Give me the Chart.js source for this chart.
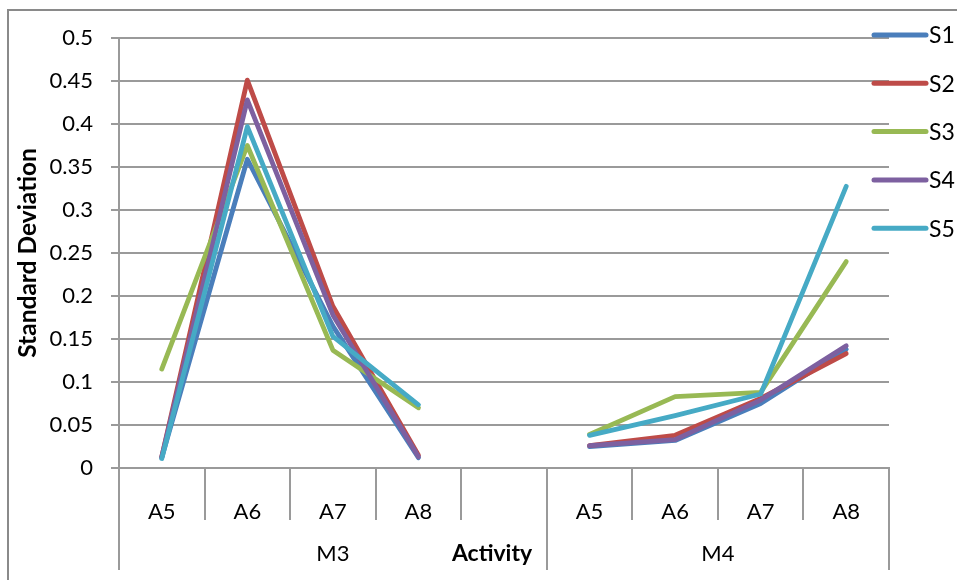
<!DOCTYPE html>
<html>
<head>
<meta charset="utf-8">
<script src="https://cdn.jsdelivr.net/npm/chart.js@4.4.1/dist/chart.umd.min.js"></script>
<style>
  html, body { margin: 0; padding: 0; background: #fff; }
  #wrap { width: 957px; height: 580px; position: relative; }
</style>
</head>
<body>
<div id="wrap"><canvas id="c" width="957" height="580"></canvas></div>
<script>
// Activity categories (the empty slot separates the two module groups)
const categories = ['A5', 'A6', 'A7', 'A8', '', 'A5', 'A6', 'A7', 'A8'];
const groupNames = ['M3', 'M4'];
const groupSizes = [5, 4];

// Standard deviation per series
const seriesNames = ['S1', 'S2', 'S3', 'S4', 'S5'];
const s1 = [0.012, 0.359, 0.165, 0.012, null, 0.025, 0.032, 0.075, 0.138];
const s2 = [0.013, 0.451, 0.188, 0.015, null, 0.026, 0.038, 0.081, 0.133];
const s3 = [0.115, 0.375, 0.137, 0.070, null, 0.039, 0.083, 0.088, 0.240];
const s4 = [0.013, 0.428, 0.178, 0.013, null, 0.026, 0.033, 0.079, 0.142];
const s5 = [0.011, 0.397, 0.153, 0.0735, null, 0.038, 0.061, 0.086, 0.3275];
const seriesValues = [s1, s2, s3, s4, s5];
const seriesColors = ['#4a7ebb', '#be4b48', '#98b954', '#7d60a0', '#46aac5'];

// Value axis
const yMin = 0, yMax = 0.5, yStep = 0.05;
const yTitle = 'Standard Deviation';
const xTitle = 'Activity';

const FONT = 'Lato, "Liberation Sans", Arial, sans-serif';
const GRID = '#9a9a9a';

const datasets = seriesNames.map((name, i) => ({
  label: name,
  data: seriesValues[i],
  borderColor: seriesColors[i],
  backgroundColor: seriesColors[i],
  borderWidth: 4.8,
  pointRadius: 0,
  pointHoverRadius: 0,
  tension: 0,
  spanGaps: false,
  borderCapStyle: 'round',
  borderJoinStyle: 'round',
  order: seriesNames.length - i
}));

// Outer frame around the chart
const framePlugin = {
  id: 'frame',
  beforeDraw(chart) {
    const ctx = chart.ctx;
    ctx.save();
    ctx.fillStyle = '#fff';
    ctx.fillRect(0, 0, chart.width, chart.height);
    ctx.strokeStyle = '#8a8a8a';
    ctx.lineWidth = 2;
    ctx.strokeRect(8, 10, chart.width + 20, chart.height + 20);
    ctx.restore();
  }
};

// Two-level category axis: activity cells, module groups, axis title, legend
const decorPlugin = {
  id: 'decor',
  afterDraw(chart) {
    const ctx = chart.ctx;
    const xs = chart.scales.x;
    const area = chart.chartArea;
    const step = xs.getPixelForValue(1) - xs.getPixelForValue(0);
    const edge = i => xs.getPixelForValue(0) - step / 2 + i * step;
    const row1 = area.bottom + 52;
    const row2 = area.bottom + 102;

    ctx.save();
    ctx.strokeStyle = GRID;
    ctx.lineWidth = 2;
    ctx.beginPath();
    for (let i = 0; i <= categories.length; i++) {
      const x = Math.round(edge(i));
      ctx.moveTo(x, area.bottom);
      ctx.lineTo(x, row1);
    }
    let acc = 0;
    const bounds = [0];
    groupSizes.forEach(n => { acc += n; bounds.push(acc); });
    bounds.forEach(b => {
      const x = Math.round(edge(b));
      ctx.moveTo(x, row1);
      ctx.lineTo(x, row2);
    });
    ctx.stroke();

    ctx.fillStyle = '#000';
    ctx.textAlign = 'center';
    ctx.textBaseline = 'middle';
    ctx.font = '22px ' + FONT;
    groupNames.forEach((g, k) => {
      const x = (edge(bounds[k]) + edge(bounds[k + 1])) / 2;
      ctx.fillText(g, x, area.bottom + 86);
    });
    ctx.font = 'bold 23px ' + FONT;
    ctx.fillText(xTitle, edge(bounds[1]) - 0.64 * step, area.bottom + 86);

    // legend
    ctx.font = '23px ' + FONT;
    ctx.textAlign = 'left';
    chart.data.datasets.forEach((ds, i) => {
      const y = area.top - 3 + i * 48.3;
      ctx.strokeStyle = ds.borderColor;
      ctx.lineWidth = 5;
      ctx.lineCap = 'round';
      ctx.beginPath();
      ctx.moveTo(area.right - 15, y);
      ctx.lineTo(area.right + 37, y);
      ctx.stroke();
      ctx.fillStyle = '#000';
      ctx.fillText(ds.label, area.right + 40, y + 1);
    });
    ctx.restore();
  }
};

new Chart(document.getElementById('c'), {
  type: 'line',
  data: { labels: categories, datasets },
  plugins: [framePlugin, decorPlugin],
  options: {
    responsive: false,
    devicePixelRatio: 1,
    animation: false,
    layout: { padding: { top: 38, right: 68, bottom: 0, left: 0 } },
    plugins: { legend: { display: false }, tooltip: { enabled: false } },
    scales: {
      x: {
        type: 'category',
        offset: true,
        grid: { display: false },
        border: { display: true, color: GRID, width: 2 },
        ticks: {
          autoSkip: false, maxRotation: 0, color: '#000',
          padding: 23,
          font: { family: FONT, size: 22 }
        },
        afterFit(scale) { scale.height = 112; }
      },
      y: {
        min: yMin, max: yMax,
        grid: { color: GRID, lineWidth: 2, tickLength: 8, drawTicks: true },
        border: { display: true, color: GRID, width: 2 },
        ticks: {
          stepSize: yStep, color: '#000', padding: 18,
          font: { family: FONT, size: 22 },
          callback: v => String(+v.toFixed(2))
        },
        title: {
          display: true, text: yTitle, color: '#000',
          font: { family: FONT, size: 24.5, weight: 'bold' },
          padding: { top: 13, bottom: 0 }
        },
        afterFit(scale) { scale.width = 119; }
      }
    }
  }
});
</script>
</body>
</html>
